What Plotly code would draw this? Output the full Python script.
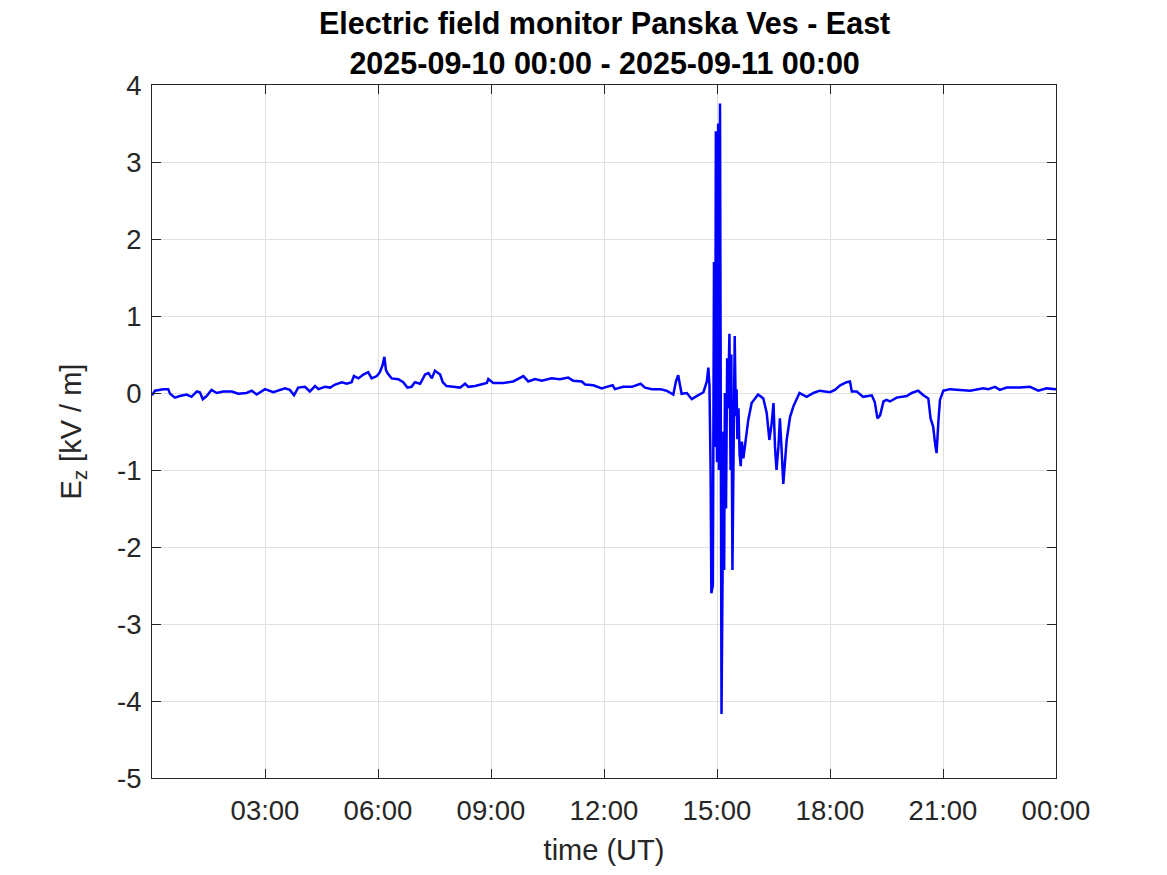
import plotly.graph_objects as go
import pandas as pd

# time in hours after 2025-09-10 00:00 UT, field in kV/m
hours = [0.00, 0.08, 0.30, 0.43, 0.48, 0.61, 0.74, 0.92, 1.05, 1.19, 1.27, 1.35, 1.45, 1.58, 1.72, 1.89,
         2.12, 2.29, 2.51, 2.65, 2.78, 3.00, 3.22, 3.35, 3.53, 3.66, 3.77, 3.88, 4.06, 4.19, 4.33, 4.42,
         4.59, 4.73, 4.86, 5.04, 5.17, 5.30, 5.36, 5.48, 5.61, 5.74, 5.83, 5.97, 6.05, 6.12, 6.17, 6.21,
         6.25, 6.36, 6.54, 6.67, 6.78, 6.89, 6.98, 7.12, 7.25, 7.34, 7.43, 7.51, 7.65, 7.72, 7.82, 8.00,
         8.18, 8.31, 8.40, 8.58, 8.71, 8.89, 8.93, 9.06, 9.33, 9.59, 9.86, 9.99, 10.17, 10.35, 10.61, 10.83,
         11.05, 11.18, 11.41, 11.50, 11.72, 11.94, 12.07, 12.23, 12.29, 12.51, 12.74, 12.97, 13.09, 13.27,
         13.49, 13.66, 13.84, 13.91, 13.97, 14.02, 14.06, 14.20, 14.33, 14.46, 14.64, 14.73, 14.77, 14.80,
         14.83, 14.85, 14.89, 14.92, 14.95, 14.97, 15.00, 15.03, 15.05, 15.08, 15.11, 15.12, 15.15, 15.17,
         15.19, 15.21, 15.24, 15.27, 15.29, 15.33, 15.36, 15.38, 15.41, 15.44, 15.47, 15.50, 15.52, 15.54,
         15.57, 15.60, 15.63, 15.66, 15.70, 15.83, 15.92, 16.09, 16.23, 16.32, 16.39, 16.45, 16.50, 16.54,
         16.58, 16.63, 16.67, 16.72, 16.76, 16.85, 16.94, 17.03, 17.19, 17.38, 17.56, 17.73, 18.00, 18.13,
         18.27, 18.44, 18.53, 18.58, 18.71, 18.88, 19.11, 19.19, 19.26, 19.33, 19.42, 19.50, 19.59, 19.77,
         20.04, 20.17, 20.34, 20.48, 20.61, 20.67, 20.74, 20.79, 20.83, 20.88, 20.92, 21.01, 21.19, 21.45,
         21.72, 22.07, 22.20, 22.38, 22.51, 22.69, 23.04, 23.31, 23.53, 23.75, 24.00]
ez = [-0.03, 0.03, 0.05, 0.05, -0.01, -0.06, -0.04, -0.02, -0.05, 0.02, 0.01, -0.08, -0.04, 0.04, 0.00, 0.02,
      0.02, -0.01, 0.00, 0.03, -0.02, 0.05, 0.01, 0.03, 0.06, 0.04, -0.03, 0.07, 0.08, 0.02, 0.09, 0.05,
      0.08, 0.07, 0.11, 0.14, 0.12, 0.14, 0.22, 0.19, 0.24, 0.27, 0.19, 0.22, 0.27, 0.36, 0.47, 0.30,
      0.26, 0.19, 0.18, 0.14, 0.07, 0.08, 0.14, 0.12, 0.24, 0.26, 0.19, 0.29, 0.24, 0.14, 0.09, 0.08,
      0.07, 0.12, 0.08, 0.09, 0.11, 0.13, 0.18, 0.13, 0.13, 0.15, 0.22, 0.15, 0.18, 0.16, 0.19, 0.18,
      0.20, 0.16, 0.15, 0.11, 0.10, 0.06, 0.08, 0.10, 0.05, 0.08, 0.08, 0.12, 0.07, 0.05,
      0.05, 0.03, -0.02, 0.15, 0.23, 0.11, -0.01, 0.00, -0.08, -0.04, 0.01, 0.15, 0.33, 0.10,
      -1.00, -2.60, -2.50, 1.70, -0.70, 3.40, -0.90, 3.50, -1.00, 3.76, -2.50, -4.17, -2.20, -0.50,
      -2.30, 0.00, -1.50, 0.45, -0.20, 0.77, -1.00, 0.50, -2.30, -0.50, 0.74, -0.30, 0.05, -0.60,
      -0.20, -0.80, -0.95, -0.63, -0.85, -0.35, -0.13, -0.02, -0.07, -0.26, -0.61, -0.40, -0.13, -0.70,
      -1.00, -0.70, -0.33, -0.78, -1.18, -0.61, -0.31, -0.17, 0.00, -0.05, 0.00, 0.03, 0.01, 0.04,
      0.10, 0.14, 0.15, 0.02, 0.02, -0.05, -0.03, -0.12, -0.33, -0.29, -0.11, -0.09, -0.11, -0.06,
      -0.04, 0.00, 0.03, -0.03, -0.07, -0.33, -0.44, -0.66, -0.78, -0.35, -0.09, 0.03, 0.05, 0.04,
      0.03, 0.06, 0.05, 0.08, 0.04, 0.07, 0.07, 0.08, 0.03, 0.06, 0.05]

x_tick_hours = [3, 6, 9, 12, 15, 18, 21, 24]
x_tick_labels = ["03:00", "06:00", "09:00", "12:00", "15:00", "18:00", "21:00", "00:00"]
y_ticks = [-5, -4, -3, -2, -1, 0, 1, 2, 3, 4]
y_tick_labels = ["-5", "-4", "-3", "-2", "-1", "0", "1", "2", "3", "4"]
title_lines = ["Electric field monitor Panska Ves - East", "2025-09-10 00:00 - 2025-09-11 00:00"]

start = pd.Timestamp("2025-09-10 00:00")
times = [start + pd.Timedelta(hours=h) for h in hours]
tickvals = [start + pd.Timedelta(hours=h) for h in x_tick_hours]

font = "Liberation Sans, Arial, Helvetica, sans-serif"
axcol = "#262626"

fig = go.Figure()
fig.add_trace(go.Scatter(x=times, y=ez, mode="lines",
                         line=dict(color="#0000FF", width=2.5), showlegend=False))

fig.update_layout(
    width=1167, height=875,
    margin=dict(l=152, r=111, t=85, b=97),
    paper_bgcolor="white", plot_bgcolor="white",
    font=dict(family=font, color=axcol),
)
fig.add_annotation(
    text="<b>" + title_lines[0] + "<br>" + title_lines[1] + "</b>",
    xref="paper", yref="paper", x=0.5, y=1, xanchor="center", yanchor="bottom",
    yshift=3, showarrow=False, align="center",
    font=dict(size=30.5, color="black", family=font),
)
fig.update_xaxes(
    range=[start, start + pd.Timedelta(hours=24)],
    tickvals=tickvals, ticktext=x_tick_labels,
    ticks="inside", ticklen=9, tickcolor=axcol, tickwidth=1,
    showline=True, linecolor=axcol, linewidth=1, mirror="ticks",
    showgrid=True, gridcolor="#E0E0E0", gridwidth=1,
    zeroline=False, ticklabelstandoff=8,
    tickfont=dict(size=27.5, color=axcol),
    title=dict(text="time (UT)", font=dict(size=29, color=axcol), standoff=14),
)
fig.update_yaxes(
    range=[-5, 4],
    tickvals=y_ticks, ticktext=y_tick_labels,
    ticks="inside", ticklen=9, tickcolor=axcol, tickwidth=1,
    showline=True, linecolor=axcol, linewidth=1, mirror="ticks",
    showgrid=True, gridcolor="#E0E0E0", gridwidth=1,
    zeroline=False, ticklabelstandoff=4,
    tickfont=dict(size=27.5, color=axcol),
    title=dict(text="E<sub>z</sub> [kV / m]", font=dict(size=29, color=axcol), standoff=26),
)

fig.write_html("out.html", config={"displayModeBar": False},
               post_script="document.body.style.margin='0px';")
